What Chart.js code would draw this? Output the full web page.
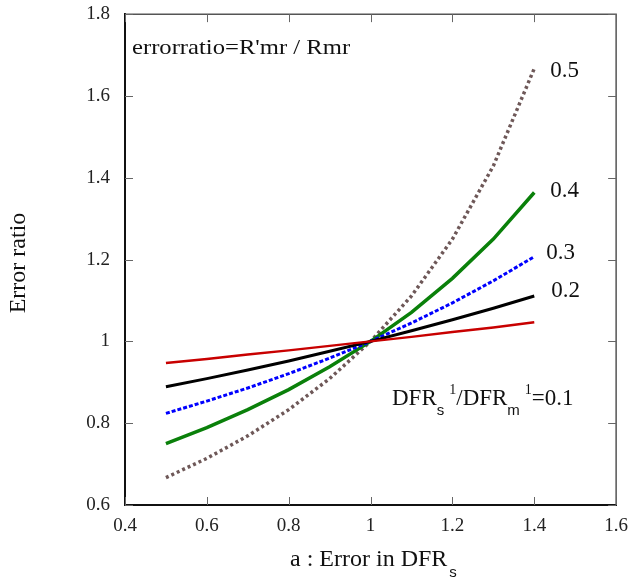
<!DOCTYPE html>
<html>
<head>
<meta charset="utf-8">
<script src="https://cdn.jsdelivr.net/npm/chart.js@4"></script>
<style>
  html, body { margin: 0; padding: 0; background: #fff; }
  #wrap { width: 630px; height: 583px; }
</style>
</head>
<body>
<div id="wrap"><canvas id="errChart" width="630" height="583"></canvas></div>
<script>
// a : error in DFRs
const aValues = [0.5, 0.6, 0.7, 0.8, 0.9, 1.0, 1.1, 1.2, 1.3, 1.4];

// error ratio for each DFRs1/DFRm1 value
const ratio01 = [0.947, 0.957, 0.968, 0.978, 0.989, 1.0, 1.011, 1.023, 1.034, 1.047];
const ratio02 = [0.889, 0.909, 0.930, 0.952, 0.976, 1.0, 1.026, 1.053, 1.081, 1.111];
const ratio03 = [0.824, 0.854, 0.886, 0.921, 0.959, 1.0, 1.045, 1.094, 1.148, 1.207];
const ratio04 = [0.750, 0.789, 0.833, 0.882, 0.938, 1.0, 1.071, 1.154, 1.250, 1.364];
const ratio05 = [0.667, 0.714, 0.769, 0.833, 0.909, 1.0, 1.111, 1.250, 1.429, 1.667];

const seriesNames = ["0.1", "0.2", "0.3", "0.4", "0.5"];

const xMin = 0.4, xMax = 1.6, yMin = 0.6, yMax = 1.8, tickStep = 0.2;

const serif = "'Liberation Serif', 'Times New Roman', serif";
const sans = "'Liberation Sans', Arial, sans-serif";

function pts(ys) {
  return aValues.map((a, i) => ({ x: a, y: ys[i] }));
}

function tickText(v) {
  return String(Number(v.toFixed(1)));
}

// labels at the end of each curve (offset from last point)
const endLabels = [
  { idx: 1, dx: 17, dy: -5 },
  { idx: 2, dx: 12, dy: -4 },
  { idx: 3, dx: 16, dy: -2 },
  { idx: 4, dx: 16, dy: 2 }
];

const framePlugin = {
  id: "frame",
  afterDatasetsDraw(chart) {
    const { ctx, chartArea: ca, scales: { x, y } } = chart;
    ctx.save();
    // top and right border
    ctx.strokeStyle = "#555";
    ctx.lineWidth = 1.5;
    ctx.beginPath();
    ctx.moveTo(ca.left, ca.top);
    ctx.lineTo(ca.right, ca.top);
    ctx.lineTo(ca.right, ca.bottom);
    ctx.stroke();

    // inward ticks
    ctx.strokeStyle = "#666";
    ctx.lineWidth = 1;
    ctx.beginPath();
    x.ticks.forEach(t => {
      const px = Math.round(x.getPixelForValue(t.value)) + 0.5;
      ctx.moveTo(px, ca.bottom); ctx.lineTo(px, ca.bottom - 8);
      ctx.moveTo(px, ca.top); ctx.lineTo(px, ca.top + 8);
    });
    y.ticks.forEach(t => {
      const py = Math.round(y.getPixelForValue(t.value)) + 0.5;
      ctx.moveTo(ca.left, py); ctx.lineTo(ca.left + 8, py);
      ctx.moveTo(ca.right, py); ctx.lineTo(ca.right - 8, py);
    });
    ctx.stroke();
    ctx.restore();
  },
  afterDraw(chart) {
    const { ctx, scales: { x, y } } = chart;
    ctx.save();
    ctx.fillStyle = "#111";
    ctx.textBaseline = "alphabetic";

    // y axis title
    ctx.save();
    ctx.translate(25, 263);
    ctx.rotate(-Math.PI / 2);
    ctx.font = "24px " + serif;
    ctx.textAlign = "center";
    ctx.fillText("Error ratio", 0, 0);
    ctx.restore();

    // x axis title
    ctx.textAlign = "left";
    ctx.font = "24px " + serif;
    const xt = "a : Error in DFR";
    ctx.fillText(xt, 290, 566);
    const w = ctx.measureText(xt).width;
    ctx.font = "15px " + sans;
    ctx.fillText("s", 290 + w + 2, 577);

    // formula note (slightly wide type in the original)
    ctx.save();
    ctx.translate(132, 54);
    ctx.scale(1.12, 1);
    ctx.font = "22px " + serif;
    ctx.fillText("errorratio=R'mr / Rmr", 0, 0);
    ctx.restore();

    // curve end labels
    const sets = [ratio01, ratio02, ratio03, ratio04, ratio05];
    ctx.font = "23px " + serif;
    ctx.textBaseline = "middle";
    endLabels.forEach(l => {
      const ys = sets[l.idx];
      const px = x.getPixelForValue(aValues[aValues.length - 1]);
      const py = y.getPixelForValue(ys[ys.length - 1]);
      ctx.fillText(seriesNames[l.idx], px + l.dx, py + l.dy);
    });

    // DFRs1/DFRm1=0.1 label
    ctx.textBaseline = "alphabetic";
    let cx = 392;
    const base = 405;
    const parts = [
      { t: "DFR", f: "23px " + serif, dy: 0 },
      { t: "s", f: "15px " + sans, dy: 10, gap: 5 },
      { t: "1", f: "14px " + serif, dy: -11 },
      { t: "/DFR", f: "23px " + serif, dy: 0 },
      { t: "m", f: "15px " + sans, dy: 10, gap: 5 },
      { t: "1", f: "14px " + serif, dy: -11 },
      { t: "=0.1", f: "23px " + serif, dy: 0 }
    ];
    parts.forEach(p => {
      ctx.font = p.f;
      ctx.fillText(p.t, cx, base + p.dy);
      cx += ctx.measureText(p.t).width + (p.gap || 0);
    });
    ctx.restore();
  }
};

const ctx = document.getElementById("errChart").getContext("2d");

new Chart(ctx, {
  type: "line",
  data: {
    datasets: [
      { label: seriesNames[0], data: pts(ratio01), borderColor: "#c80000", borderWidth: 2.5 },
      { label: seriesNames[1], data: pts(ratio02), borderColor: "#000000", borderWidth: 3 },
      { label: seriesNames[2], data: pts(ratio03), borderColor: "#0000ff", borderWidth: 3, borderDash: [4, 2] },
      { label: seriesNames[3], data: pts(ratio04), borderColor: "#0a800a", borderWidth: 3.5 },
      { label: seriesNames[4], data: pts(ratio05), borderColor: "#6e5858", borderWidth: 3.5, borderDash: [3, 3] }
    ]
  },
  options: {
    responsive: false,
    animation: false,
    devicePixelRatio: 1,
    elements: {
      point: { radius: 0 },
      line: { tension: 0, fill: false, borderCapStyle: "butt" }
    },
    layout: { padding: { top: 0, right: 0, left: 0, bottom: 0 } },
    plugins: {
      legend: { display: false },
      tooltip: { enabled: false }
    },
    scales: {
      x: {
        type: "linear",
        min: xMin,
        max: xMax,
        grid: { display: false },
        border: { display: true, color: "#111", width: 2 },
        ticks: {
          stepSize: tickStep,
          color: "#222",
          padding: 2,
          maxRotation: 0,
          font: { family: serif, size: 19 },
          callback: tickText
        },
        afterFit: s => { s.height = 78; }
      },
      y: {
        type: "linear",
        min: yMin,
        max: yMax,
        grid: { display: false },
        border: { display: true, color: "#111", width: 2 },
        ticks: {
          stepSize: tickStep,
          color: "#222",
          padding: 7,
          font: { family: serif, size: 19, lineHeight: 0.75 },
          callback: tickText
        },
        afterFit: s => { s.width = 125; }
      }
    }
  },
  plugins: [framePlugin]
});
</script>
</body>
</html>
